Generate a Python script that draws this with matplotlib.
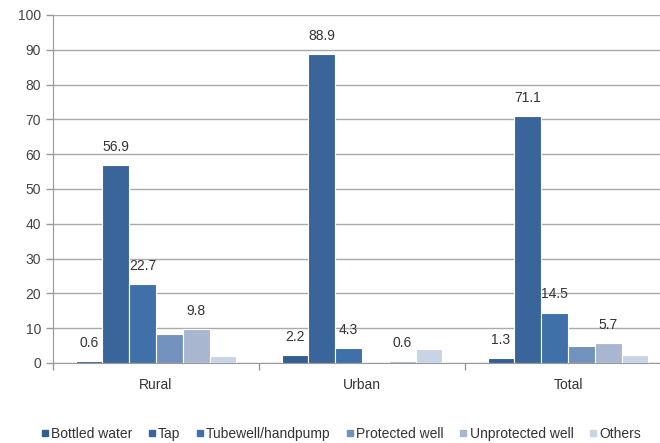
import matplotlib
matplotlib.use("Agg")
import matplotlib.pyplot as plt
import numpy as np
from matplotlib.lines import Line2D

categories = ["Rural", "Urban", "Total"]
series_names = ["Bottled water", "Tap", "Tubewell/handpump", "Protected well",
                "Unprotected well", "Others"]
bottled = [0.6, 2.2, 1.3]
tap = [56.9, 88.9, 71.1]
tubewell = [22.7, 4.3, 14.5]
protected = [8.3, 0.0, 4.8]
unprotected = [9.8, 0.6, 5.7]
others = [2.0, 3.9, 2.4]
# which values carry a data label
labeled = [
    [True, True, True],
    [True, True, True],
    [True, True, True],
    [False, False, False],
    [True, True, True],
    [False, False, False],
]
series = [bottled, tap, tubewell, protected, unprotected, others]
colors = ["#325E92", "#3A659A", "#3F70A8", "#7391BD", "#A8B6D0", "#C8D4E6"]

plt.rcParams['font.family'] = ['Liberation Sans', 'DejaVu Sans']
fig = plt.figure(figsize=(6.6, 4.43), dpi=100)
ax = fig.add_axes([53/660, 1-363/443, (671-53)/660, (363-15)/443])

n = len(series)
x = np.arange(len(categories))
group = 0.78
w = group / n
for i, (vals, col) in enumerate(zip(series, colors)):
    pos = x - group/2 + w*(i+0.5)
    bars = ax.bar(pos, vals, width=w, color=col, edgecolor="white", linewidth=0.8, zorder=3)
    for j, (b, v) in enumerate(zip(bars, vals)):
        if labeled[i][j]:
            ax.annotate(f"{v:.1f}", (b.get_x()+b.get_width()/2, v), xytext=(0, 13),
                        textcoords="offset points", ha="center", va="center",
                        fontsize=10, color="#333333", zorder=4)

ax.set_xlim(-0.5, len(categories)-0.5)
ax.set_ylim(0, 100)
ax.set_yticks(np.arange(0, 101, 10))
ax.yaxis.grid(True, color="#AAAAAA", linewidth=1.0, zorder=0)
for s in ["top", "right"]:
    ax.spines[s].set_visible(False)
ax.spines["left"].set_color("#999999")
ax.spines["bottom"].set_color("#999999")
ax.tick_params(axis="y", colors="#999999", labelcolor="#444444", labelsize=10, length=5, width=1)
ax.set_xticks(np.arange(-0.5, len(categories), 1.0))
ax.set_xticklabels([])
ax.tick_params(axis="x", colors="#999999", length=5, width=1)
for xi, c in zip(x, categories):
    ax.text(xi, -6.2, c, ha="center", va="center", fontsize=10, color="#333333")

handles = [Line2D([], [], marker="s", linestyle="none", markersize=4,
                  markerfacecolor=c, markeredgecolor=c) for c in colors]
fig.legend(handles, series_names, loc="center", bbox_to_anchor=(0.515, 1-434/443),
           ncol=6, frameon=False, fontsize=10, handletextpad=0.05, columnspacing=1.0,
           handlelength=0.8, labelcolor="#333333")

fig.savefig("out.png", dpi=100)
